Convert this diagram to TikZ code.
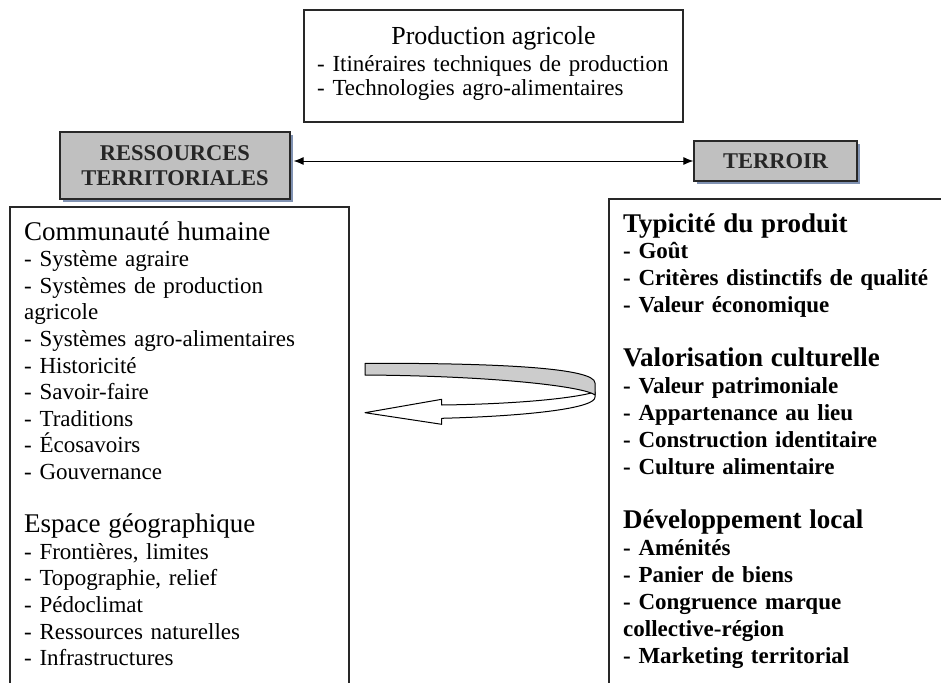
\documentclass[tikz,border=0pt]{standalone}
\usepackage{fontspec}
\setmainfont{Liberation Serif}
\usetikzlibrary{arrows.meta,shadows}
\definecolor{boxgray}{RGB}{192,192,192}
\definecolor{ribbongray}{RGB}{204,204,204}
\definecolor{shadowblue}{RGB}{128,146,178}
\definecolor{edgegray}{RGB}{40,40,40}

\tikzset{
	graybox/.style={draw=edgegray,line width=1.2pt,fill=boxgray,text=black!85,
		font=\bfseries\fontsize{22.5}{25}\selectfont,align=center,inner sep=0pt,
		drop shadow={shadow xshift=3pt,shadow yshift=-3pt,fill=shadowblue,opacity=1}},
	plainbox/.style={draw=edgegray,line width=1.2pt},
	listtext/.style={anchor=base west,inner sep=0pt,text width=#1,align=left},
	ribbon/.style={draw=black,line width=1pt,line join=round},
}

\begin{document}
\begin{tikzpicture}[x=1pt,y=-1pt,>={Latex[length=10pt,width=8pt]}]
	\useasboundingbox (0,0) rectangle (941,682);
	\clip (0,0) rectangle (941,682);
	% production box
	\node[plainbox,minimum width=379pt,minimum height=112pt] (prod) at (493.5,66) {};
	\node[anchor=base,inner sep=0pt,font=\fontsize{26}{28}\selectfont] (prodtitle) at (493.5,45) {Production agricole};
	\node[listtext=360pt,font=\fontsize{23}{24}\selectfont] (prodlist) at (317,72) {- Itinéraires techniques de production\\- Technologies agro-alimentaires};
	% the two gray labels
	\node[graybox,minimum width=230pt,minimum height=67pt] (res) at (175,165.5) {RESSOURCES\\TERRITORIALES};
	\node[graybox,minimum width=163pt,minimum height=40pt] (ter) at (775.5,161) {TERROIR};
	\draw[<->,line width=1pt,shorten <=3pt] (res.east |- ter.west) -- (ter.west);
	% open boxes, cut by the bottom edge
	\draw[plainbox] (10,700) -- (10,207) -- (349,207) -- (349,700);
	\draw[plainbox] (609,700) -- (609,199) -- (960,199);
	\node[listtext=330pt,font=\fontsize{23}{26.6}\selectfont] (human) at (24,240) {{\fontsize{27}{26.6}\selectfont Communauté humaine}\\
		- Système agraire\\
		- Systèmes de production\\
		agricole\\
		- Systèmes agro-alimentaires\\
		- Historicité\\
		- Savoir-faire\\
		- Traditions\\
		- Écosavoirs\\
		- Gouvernance\\[26.6pt]
		{\fontsize{27}{26.6}\selectfont Espace géographique}\\
		- Frontières, limites\\
		- Topographie, relief\\
		- Pédoclimat\\
		- Ressources naturelles\\
		- Infrastructures};
	\node[listtext=315pt,font=\bfseries\fontsize{23}{26.95}\selectfont] (typ) at (623,232) {{\fontsize{27}{26.95}\selectfont Typicité du produit}\\
		- Goût\\
		- Critères distinctifs de qualité\\
		- Valeur économique\\[26.95pt]
		{\fontsize{27}{26.95}\selectfont Valorisation culturelle}\\
		- Valeur patrimoniale\\
		- Appartenance au lieu\\
		- Construction identitaire\\
		- Culture alimentaire\\[26.95pt]
		{\fontsize{27}{26.95}\selectfont Développement local}\\
		- Aménités\\
		- Panier de biens\\
		- Congruence marque\\
		collective-région\\
		- Marketing territorial};
	% turning ribbon arrow
	\draw[ribbon,fill=white] (365,412.7) -- (441.7,399.3) -- (441.7,405)
		.. controls (520,404) and (575,398) .. (595,392) -- (595,397)
		.. controls (596,408) and (530,416) .. (441.7,418.3)
		-- (441.7,424.3) -- cycle;
	\draw[ribbon,fill=ribbongray] (365,363.3) .. controls (500,363) and (595,368) .. (595,383)
		-- (595,395) .. controls (585,387) and (500,376) .. (365,375) -- cycle;
\end{tikzpicture}
\end{document}
